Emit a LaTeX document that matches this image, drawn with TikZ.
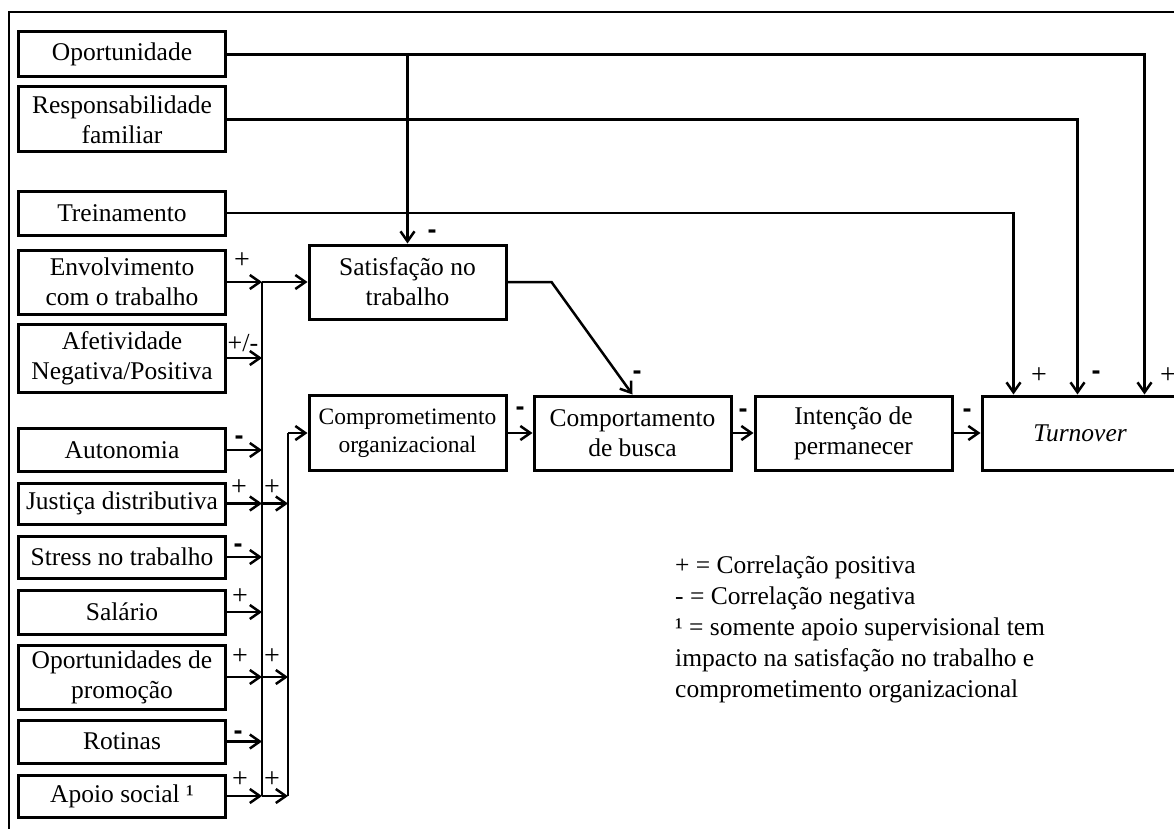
\documentclass[tikz,border=0pt]{standalone}
\usepackage{fontspec}
\setmainfont{Liberation Serif}
\newfontfamily\signfont{Liberation Sans}
\usetikzlibrary{arrows.meta,calc}

\begin{document}
\begin{tikzpicture}[x=1pt,y=-1pt,
  box/.style={draw, line width=3pt, rectangle, align=center, inner sep=0pt,
              font=\fontsize{25.5}{30}\selectfont},
  lbox/.style={box, minimum width=207},
  cbox/.style={box, minimum width=197, minimum height=74},
  wire/.style={line width=2.5pt},
  link/.style={line width=2.5pt, -{Straight Barb[length=10pt,width=14pt]}},
  plus/.style={inner sep=0pt, font=\fontsize{28}{28}\selectfont},
  minus/.style={inner sep=0pt, font=\signfont\bfseries\fontsize{27}{27}\selectfont},
]
\useasboundingbox (0,0) rectangle (1174,829);
\clip (0,0) rectangle (1174,829);

% outer frame (runs past the right and bottom edges)
\draw[line width=1.6pt] (9,850) -- (9,12) -- (1200,12);

% antecedent boxes
\node[lbox, minimum height=45] (op)     at (122,54.5)  {Oportunidade};
\node[lbox, minimum height=65] (resp)   at (122,119.5) {Responsabilidade\\familiar};
\node[lbox, minimum height=44] (trein)  at (122,213)   {Treinamento};
\node[lbox, minimum height=64] (env)    at (122,282)   {Envolvimento\\com o trabalho};
\node[lbox, minimum height=68] (afet)   at (122,358)   {Afetividade\\Negativa/Positiva};
\node[lbox, minimum height=43] (auto)   at (122,450)   {Autonomia};
\node[lbox, minimum height=41] (just)   at (122,503.5) {Justiça distributiva};
\node[lbox, minimum height=42] (stress) at (122,557)   {Stress no trabalho};
\node[lbox, minimum height=44] (sal)    at (122,612)   {Salário};
\node[lbox, minimum height=64] (promo)  at (122,677)   {Oportunidades de\\promoção};
\node[lbox, minimum height=43] (rot)    at (122,741.5) {Rotinas};
\node[lbox, minimum height=42] (apoio)  at (122,796)   {Apoio social ¹};

% mediators and outcome
\node[cbox] (sat) at (407.5,282) {Satisfação no\\trabalho};
\node[cbox, minimum height=75, font=\fontsize{23.5}{28}\selectfont] (comp) at (407.5,433) {Comprometimento\\organizacional};
\node[cbox] (busca) at (632.5,433) {Comportamento\\de busca};
\node[cbox] (perm)  at (853.5,433) {Intenção de\\permanecer};
\node[box, minimum width=196, minimum height=74, font=\fontsize{25.5}{30}\selectfont\itshape] (turn) at (1080,433) {Turnover};

% collecting buses
\coordinate (b1) at (262,282);
\coordinate (b2) at (288,433);
\draw[wire] (b1) -- (b1 |- apoio.east);
\draw[wire] (b2) -- (b2 |- apoio.east);
\draw[link] (b1) -- (sat.west);
\draw[link] (b2) -- (comp.west);
\foreach \n in {env,afet,auto,just,stress,sal,promo,rot,apoio}
  \draw[link] (\n.east) -- (\n.east -| b1);
\foreach \n in {just,promo,apoio}
  \draw[link] (\n.east -| b1) -- (\n.east -| b2);

% direct links to turnover
\draw[link] (op.east) -| ([xshift=164pt]turn.north west);
\draw[link] (resp.east) -| ([xshift=97pt]turn.north west);
\draw[link] (trein.east) -| ([xshift=33pt]turn.north west);
\draw[link] (op.east -| sat.north) -- (sat.north);

% main chain
\draw[link] (sat.east) -- ++(44,0) -- (busca.north);
\draw[link] (comp.east) -- (busca.west);
\draw[link] (busca.east) -- (perm.west);
\draw[link] (perm.east) -- (turn.west);

% signs
\foreach \x/\y [count=\i] in {242/261, 239/488, 272/488, 240/597, 240/657, 272/657,
                              240/780, 272/780, 1039/376, 1168/376}
  \node[plus] (p\i) at (\x,\y) {+};
\node[plus, font=\fontsize{26}{26}\selectfont] (pm) at (243,343) {+/-};
\foreach \x/\y [count=\i] in {239/440, 238/548, 238/735, 432/234, 637/375,
                              520/411, 743/413, 967/413, 1096/375}
  \node[minus] (m\i) at (\x,\y) {-};

% legend
\node[anchor=north west, align=left, inner sep=0pt, font=\fontsize{25.5}{31}\selectfont]
  (legend) at (675,555.5)
  {+ = Correlação positiva\\
   - = Correlação negativa\\
   ¹ = somente apoio supervisional tem\\
   impacto na satisfação no trabalho e\\
   comprometimento organizacional};
\end{tikzpicture}
\end{document}
